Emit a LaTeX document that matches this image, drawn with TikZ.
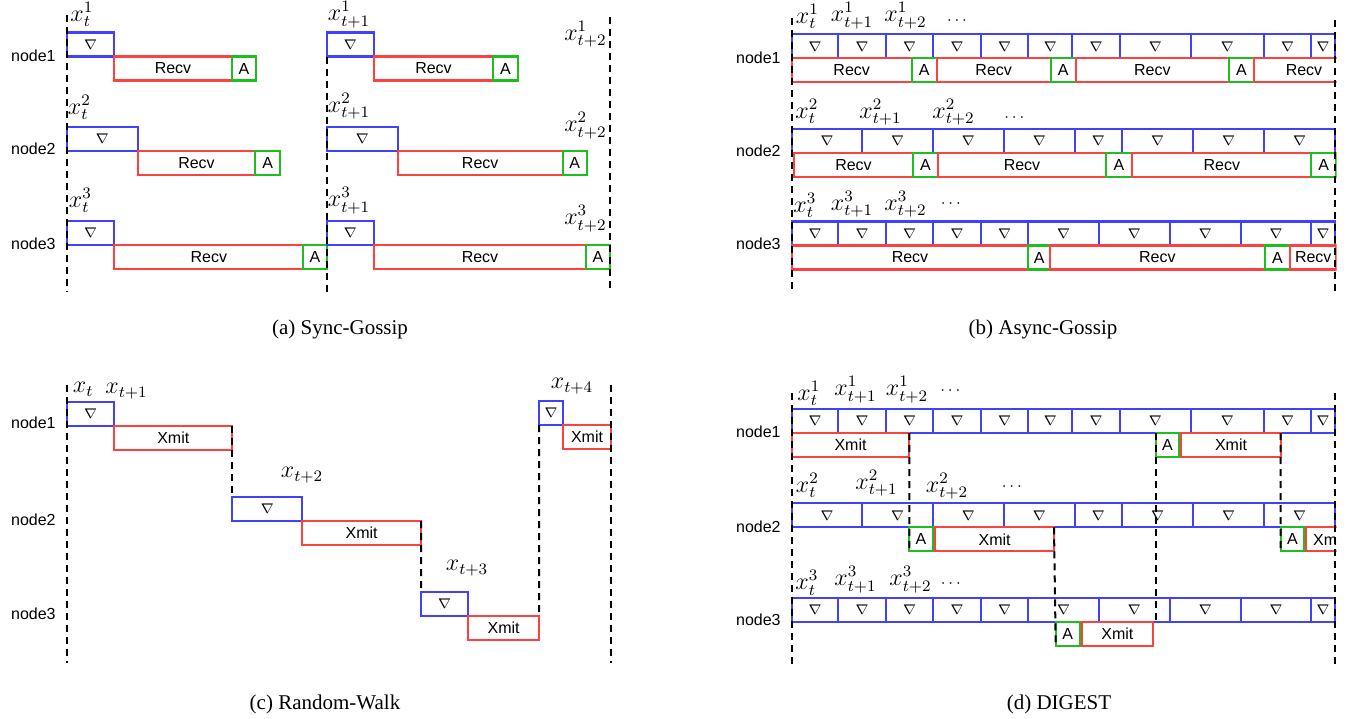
\documentclass[tikz,border=0pt]{standalone}
\usepackage[no-math]{fontspec}
\setmainfont{Liberation Serif}
\setsansfont{Liberation Sans}
\usetikzlibrary{positioning}

\definecolor{gradblue}{RGB}{64,64,255}
\definecolor{recvred}{RGB}{255,64,64}
\definecolor{aggreen}{RGB}{30,190,30}

% gradient slots of each row (panels b and d)
\newcommand{\gradrowone}{791.7/838.3, 838.3/885.7, 885.7/933.3, 933.3/981, 981/1028.3, 1028.3/1072.3, 1072.3/1120, 1120/1190.7, 1190.7/1264, 1264/1311.3, 1311.3/1335}
\newcommand{\gradrowtwo}{791.7/862.3, 862.3/932.7, 932.7/1004, 1004/1074.7, 1074.7/1121.7, 1121.7/1193.3, 1193.3/1264, 1264/1335}
\newcommand{\gradrowthree}{791.7/838.3, 838.3/885.7, 885.7/933.3, 933.3/981, 981/1028.3, 1028.3/1099, 1099/1169.7, 1169.7/1240.7, 1240.7/1311.3, 1311.3/1335}

\begin{document}
\begin{tikzpicture}[
    x=0.5pt, y=-0.5pt,
    box/.style={line width=1.1pt, inner sep=0pt, outer sep=0pt, minimum height=12pt, anchor=north west, font=\sffamily\fontsize{8}{9}\selectfont},
    seg/.style 2 args={minimum width={((#2)-(#1))*0.5pt}},
    grad/.style={box, draw=gradblue, font=\fontsize{7.5}{8}\selectfont},
    recv/.style={box, draw=recvred},
    agg/.style={box, draw=aggreen},
    nodename/.style={anchor=east, inner sep=0pt, font=\sffamily\fontsize{8}{9}\selectfont},
    lab/.style={anchor=base west, inner sep=0pt, font=\fontsize{12}{14}\selectfont},
    labr/.style={lab, anchor=base east},
    more/.style={anchor=base west, inner sep=0pt, font=\fontsize{8}{9}\selectfont},
    timeline/.style={line width=1pt, dash pattern=on 3.5pt off 2.5pt},
    caption/.style={font=\fontsize{10.5}{12}\selectfont},
]
\useasboundingbox (0,0) rectangle (1354,718);

% ---------------- (a) Sync-Gossip ----------------
\node[nodename] (an1) at (56, 55.5) {node1};
\node[nodename] (an2) at (56, 149) {node2};
\node[nodename] (an3) at (56, 243.5) {node3};

% first round
\node[grad, seg={66.7}{114.3}] (a1g1) at (66.7, 32.5) {$\nabla$};
\node[recv, seg={114.3}{231.7}] (a1r1) at (114.3, 56.5) {Recv};
\node[agg, seg={231.7}{256}] (a1a1) at (231.7, 56.5) {A};
\node[grad, seg={66.7}{137.7}] (a2g1) at (66.7, 126.8) {$\nabla$};
\node[recv, seg={137.7}{255.3}] (a2r1) at (137.7, 150.8) {Recv};
\node[agg, seg={255.3}{280}] (a2a1) at (255.3, 150.8) {A};
\node[grad, seg={66.7}{114.3}] (a3g1) at (66.7, 221.1) {$\nabla$};
\node[recv, seg={114.3}{303.3}] (a3r1) at (114.3, 245.1) {Recv};
\node[agg, seg={303.3}{326.7}] (a3a1) at (303.3, 245.1) {A};

% second round
\node[grad, seg={326.7}{374}] (a1g2) at (326.7, 32.5) {$\nabla$};
\node[recv, seg={374}{493}] (a1r2) at (374, 56.5) {Recv};
\node[agg, seg={493}{518}] (a1a2) at (493, 56.5) {A};
\node[grad, seg={326.7}{397.7}] (a2g2) at (326.7, 126.8) {$\nabla$};
\node[recv, seg={397.7}{562.7}] (a2r2) at (397.7, 150.8) {Recv};
\node[agg, seg={562.7}{586.7}] (a2a2) at (562.7, 150.8) {A};
\node[grad, seg={326.7}{374}] (a3g2) at (326.7, 221.1) {$\nabla$};
\node[recv, seg={374}{586}] (a3r2) at (374, 245.1) {Recv};
\node[agg, seg={586}{610}] (a3a2) at (586, 245.1) {A};

% iterates
\node[lab] (a1x0) at (70, 21) {$x^1_t$};
\node[lab] (a2x0) at (67.5, 114) {$x^2_t$};
\node[lab] (a3x0) at (68.5, 207) {$x^3_t$};
\node[lab] (a1x1) at (327.5, 20.5) {$x^1_{t+1}$};
\node[lab] (a2x1) at (327.5, 112) {$x^2_{t+1}$};
\node[lab] (a3x1) at (327.5, 206.5) {$x^3_{t+1}$};
\node[labr] (a1x2) at (607, 40) {$x^1_{t+2}$};
\node[labr] (a2x2) at (607, 131.5) {$x^2_{t+2}$};
\node[labr] (a3x2) at (607, 224.5) {$x^3_{t+2}$};

% time marks
\coordinate (aTop) at (66.7, 15);
\coordinate (aBot) at (66.7, 292);
\coordinate (aEnd) at (610, 17);
\draw[timeline] (aTop) -- (aBot);
\draw[timeline] (a1g2.south west) -- (a1g2.south west |- aBot);
\draw[timeline] (aEnd) -- (aEnd |- aBot);

\node[caption] (capa) at (340, 329) {(a) Sync-Gossip};

% ---------------- (b) Async-Gossip ----------------
\node[nodename] (bn1) at (781, 57.5) {node1};
\node[nodename] (bn2) at (781, 151) {node2};
\node[nodename] (bn3) at (781, 244) {node3};

\begin{scope}
\clip (700, 0) rectangle (1336.5, 300);
\foreach \a/\b [count=\i] in \gradrowone
  \node[grad, seg={\a}{\b}] (b1g\i) at (\a, 34.3) {$\nabla$};
\foreach \a/\b [count=\i] in \gradrowtwo
  \node[grad, seg={\a}{\b}] (b2g\i) at (\a, 129) {$\nabla$};
\foreach \a/\b [count=\i] in \gradrowthree
  \node[grad, seg={\a}{\b}] (b3g\i) at (\a, 221.5) {$\nabla$};

% node1
\node[recv, seg={791.7}{911.7}] (b1r1) at (791.7, 58.3) {Recv};
\node[agg, seg={911.7}{936.7}] (b1a1) at (911.7, 58.3) {A};
\node[recv, seg={936.7}{1050.7}] (b1r2) at (936.7, 58.3) {Recv};
\node[agg, seg={1050.7}{1075.7}] (b1a2) at (1050.7, 58.3) {A};
\node[recv, seg={1075.7}{1229}] (b1r3) at (1075.7, 58.3) {Recv};
\node[agg, seg={1229}{1254}] (b1a3) at (1229, 58.3) {A};
\node[recv, seg={1254}{1354}] (b1r4) at (1254, 58.3) {Recv};
% node2
\node[recv, seg={794.3}{912.7}] (b2r1) at (794.3, 153) {Recv};
\node[agg, seg={912.7}{938.3}] (b2a1) at (912.7, 153) {A};
\node[recv, seg={938.3}{1105.7}] (b2r2) at (938.3, 153) {Recv};
\node[agg, seg={1105.7}{1132.3}] (b2a2) at (1105.7, 153) {A};
\node[recv, seg={1132.3}{1311.3}] (b2r3) at (1132.3, 153) {Recv};
\node[agg, seg={1311.3}{1336}] (b2a3) at (1311.3, 153) {A};
% node3
\node[recv, seg={791.7}{1028.3}] (b3r1) at (791.7, 245.5) {Recv};
\node[agg, seg={1028.3}{1050}] (b3a1) at (1028.3, 245.5) {A};
\node[recv, seg={1050}{1264.7}] (b3r2) at (1050, 245.5) {Recv};
\node[agg, seg={1264.7}{1290}] (b3a2) at (1264.7, 245.5) {A};
\node[recv, seg={1290}{1336.5}] (b3r3) at (1290, 245.5) {Recv};
\end{scope}

% iterates
\node[lab] (b1x0) at (795.5, 23) {$x^1_t$};
\node[lab] (b1x1) at (830.5, 21.5) {$x^1_{t+1}$};
\node[lab] (b1x2) at (884, 21.5) {$x^1_{t+2}$};
\node[more] (b1x3) at (946.7, 24) {$\cdots$};
\node[lab] (b2x0) at (795, 118) {$x^2_t$};
\node[lab] (b2x1) at (859, 118) {$x^2_{t+1}$};
\node[lab] (b2x2) at (932, 118) {$x^2_{t+2}$};
\node[more] (b2x3) at (1004, 121) {$\cdots$};
\node[lab] (b3x0) at (793, 212) {$x^3_t$};
\node[lab] (b3x1) at (830.5, 210) {$x^3_{t+1}$};
\node[lab] (b3x2) at (884, 210) {$x^3_{t+2}$};
\node[more] (b3x3) at (940.5, 207) {$\cdots$};

% time marks
\coordinate (bTop) at (791.7, 18);
\coordinate (bBot) at (791.7, 293);
\coordinate (bEnd) at (1335, 20);
\draw[timeline] (bTop) -- (bBot);
\draw[timeline] (bEnd) -- (bEnd |- bBot);

\node[caption] (capb) at (1043, 329) {(b) Async-Gossip};

% ---------------- (c) Random-Walk ----------------
\node[nodename] (cn1) at (56, 423) {node1};
\node[nodename] (cn2) at (56, 520) {node2};
\node[nodename] (cn3) at (56, 614) {node3};

\node[grad, seg={66.7}{114.3}] (c1g) at (66.7, 402) {$\nabla$};
\node[recv, seg={114.3}{232.3}] (c1r) at (114.3, 426) {Xmit};
\node[grad, seg={232.3}{302.3}] (c2g) at (232.3, 497) {$\nabla$};
\node[recv, seg={302.3}{421}] (c2r) at (302.3, 521) {Xmit};
\node[grad, seg={421}{468.3}] (c3g) at (421, 592) {$\nabla$};
\node[recv, seg={468.3}{539}] (c3r) at (468.3, 616) {Xmit};
\node[grad, seg={539}{563.3}] (c4g) at (539, 401) {$\nabla$};
\node[recv, seg={563.3}{610.7}] (c4r) at (563.3, 425) {Xmit};

% iterates
\node[lab] (cx0) at (72.5, 392.5) {$x_t$};
\node[lab] (cx1) at (105, 393.5) {$x_{t+1}$};
\node[lab] (cx2) at (280.5, 477.5) {$x_{t+2}$};
\node[lab] (cx3) at (445.5, 570.5) {$x_{t+3}$};
\node[lab] (cx4) at (550.5, 388.5) {$x_{t+4}$};

% hand-overs
\draw[timeline] (c1r.north east) -- (c2g.north west);
\draw[timeline] (c2r.north east) -- (c3g.north west);
\draw[timeline] (c4g.south west) -- (c3r.north east);
\coordinate (cTop) at (66.7, 385);
\coordinate (cBot) at (66.7, 663);
\coordinate (cEnd) at (610.7, 385);
\draw[timeline] (cTop) -- (cBot);
\draw[timeline] (cEnd) -- (cEnd |- cBot);

\node[caption] (capc) at (325, 704) {(c) Random-Walk};

% ---------------- (d) DIGEST ----------------
\node[nodename] (dn1) at (781, 431.7) {node1};
\node[nodename] (dn2) at (781, 526.7) {node2};
\node[nodename] (dn3) at (781, 620) {node3};

\begin{scope}
\clip (700, 370) rectangle (1336.5, 680);
\foreach \a/\b [count=\i] in \gradrowone
  \node[grad, seg={\a}{\b}] (d1g\i) at (\a, 409) {$\nabla$};
\foreach \a/\b [count=\i] in \gradrowtwo
  \node[grad, seg={\a}{\b}] (d2g\i) at (\a, 503.3) {$\nabla$};
\foreach \a/\b [count=\i] in \gradrowthree
  \node[grad, seg={\a}{\b}] (d3g\i) at (\a, 598) {$\nabla$};

\node[recv, seg={791.7}{909.3}] (d1x1) at (791.7, 433) {Xmit};
\node[agg, seg={1155.7}{1179}] (d1a1) at (1155.7, 433) {A};
\node[recv, seg={1181.3}{1280.7}] (d1x2) at (1181.3, 433) {Xmit};
\node[agg, seg={909.3}{932.7}] (d2a1) at (909.3, 527.3) {A};
\node[recv, seg={935.3}{1054}] (d2x1) at (935.3, 527.3) {Xmit};
\node[agg, seg={1280.7}{1304}] (d2a2) at (1280.7, 527.3) {A};
\node[recv, seg={1306.3}{1352}] (d2x2) at (1306.3, 527.3) {Xmit};
\node[agg, seg={1055.7}{1079.7}] (d3a1) at (1055.7, 622) {A};
\node[recv, seg={1081.7}{1153}] (d3x1) at (1081.7, 622) {Xmit};
\end{scope}

% iterates
\node[lab] (d1x0) at (797, 400) {$x^1_t$};
\node[lab] (d1l1) at (834, 395.5) {$x^1_{t+1}$};
\node[lab] (d1l2) at (885.5, 395.5) {$x^1_{t+2}$};
\node[more] (d1l3) at (940, 394) {$\cdots$};
\node[lab] (d2x0) at (795.5, 492) {$x^2_t$};
\node[lab] (d2l1) at (855, 489) {$x^2_{t+1}$};
\node[lab] (d2l2) at (925.5, 492) {$x^2_{t+2}$};
\node[more] (d2l3) at (1001.5, 490.7) {$\cdots$};
\node[lab] (d3x0) at (795, 589.5) {$x^3_t$};
\node[lab] (d3l1) at (834, 585.5) {$x^3_{t+1}$};
\node[lab] (d3l2) at (889, 585.5) {$x^3_{t+2}$};
\node[more] (d3l3) at (940.5, 587) {$\cdots$};

% hand-overs
\draw[timeline] (d1x1.north east) -- (d2a1.south west);
\draw[timeline] (d2x1.north east) -- (d3a1.south west);
\draw[timeline] (d1a1.north west) -- (d1a1.north west |- d3x1.north);
\draw[timeline] (d1x2.north east) -- (d2a2.south west);
\coordinate (dTop) at (791.7, 393);
\coordinate (dBot) at (791.7, 668);
\coordinate (dEnd) at (1335, 393);
\draw[timeline] (dTop) -- (dBot);
\draw[timeline] (dEnd) -- (dEnd |- dBot);

\node[caption] (capd) at (1059, 704) {(d) DIGEST};

\end{tikzpicture}
\end{document}
